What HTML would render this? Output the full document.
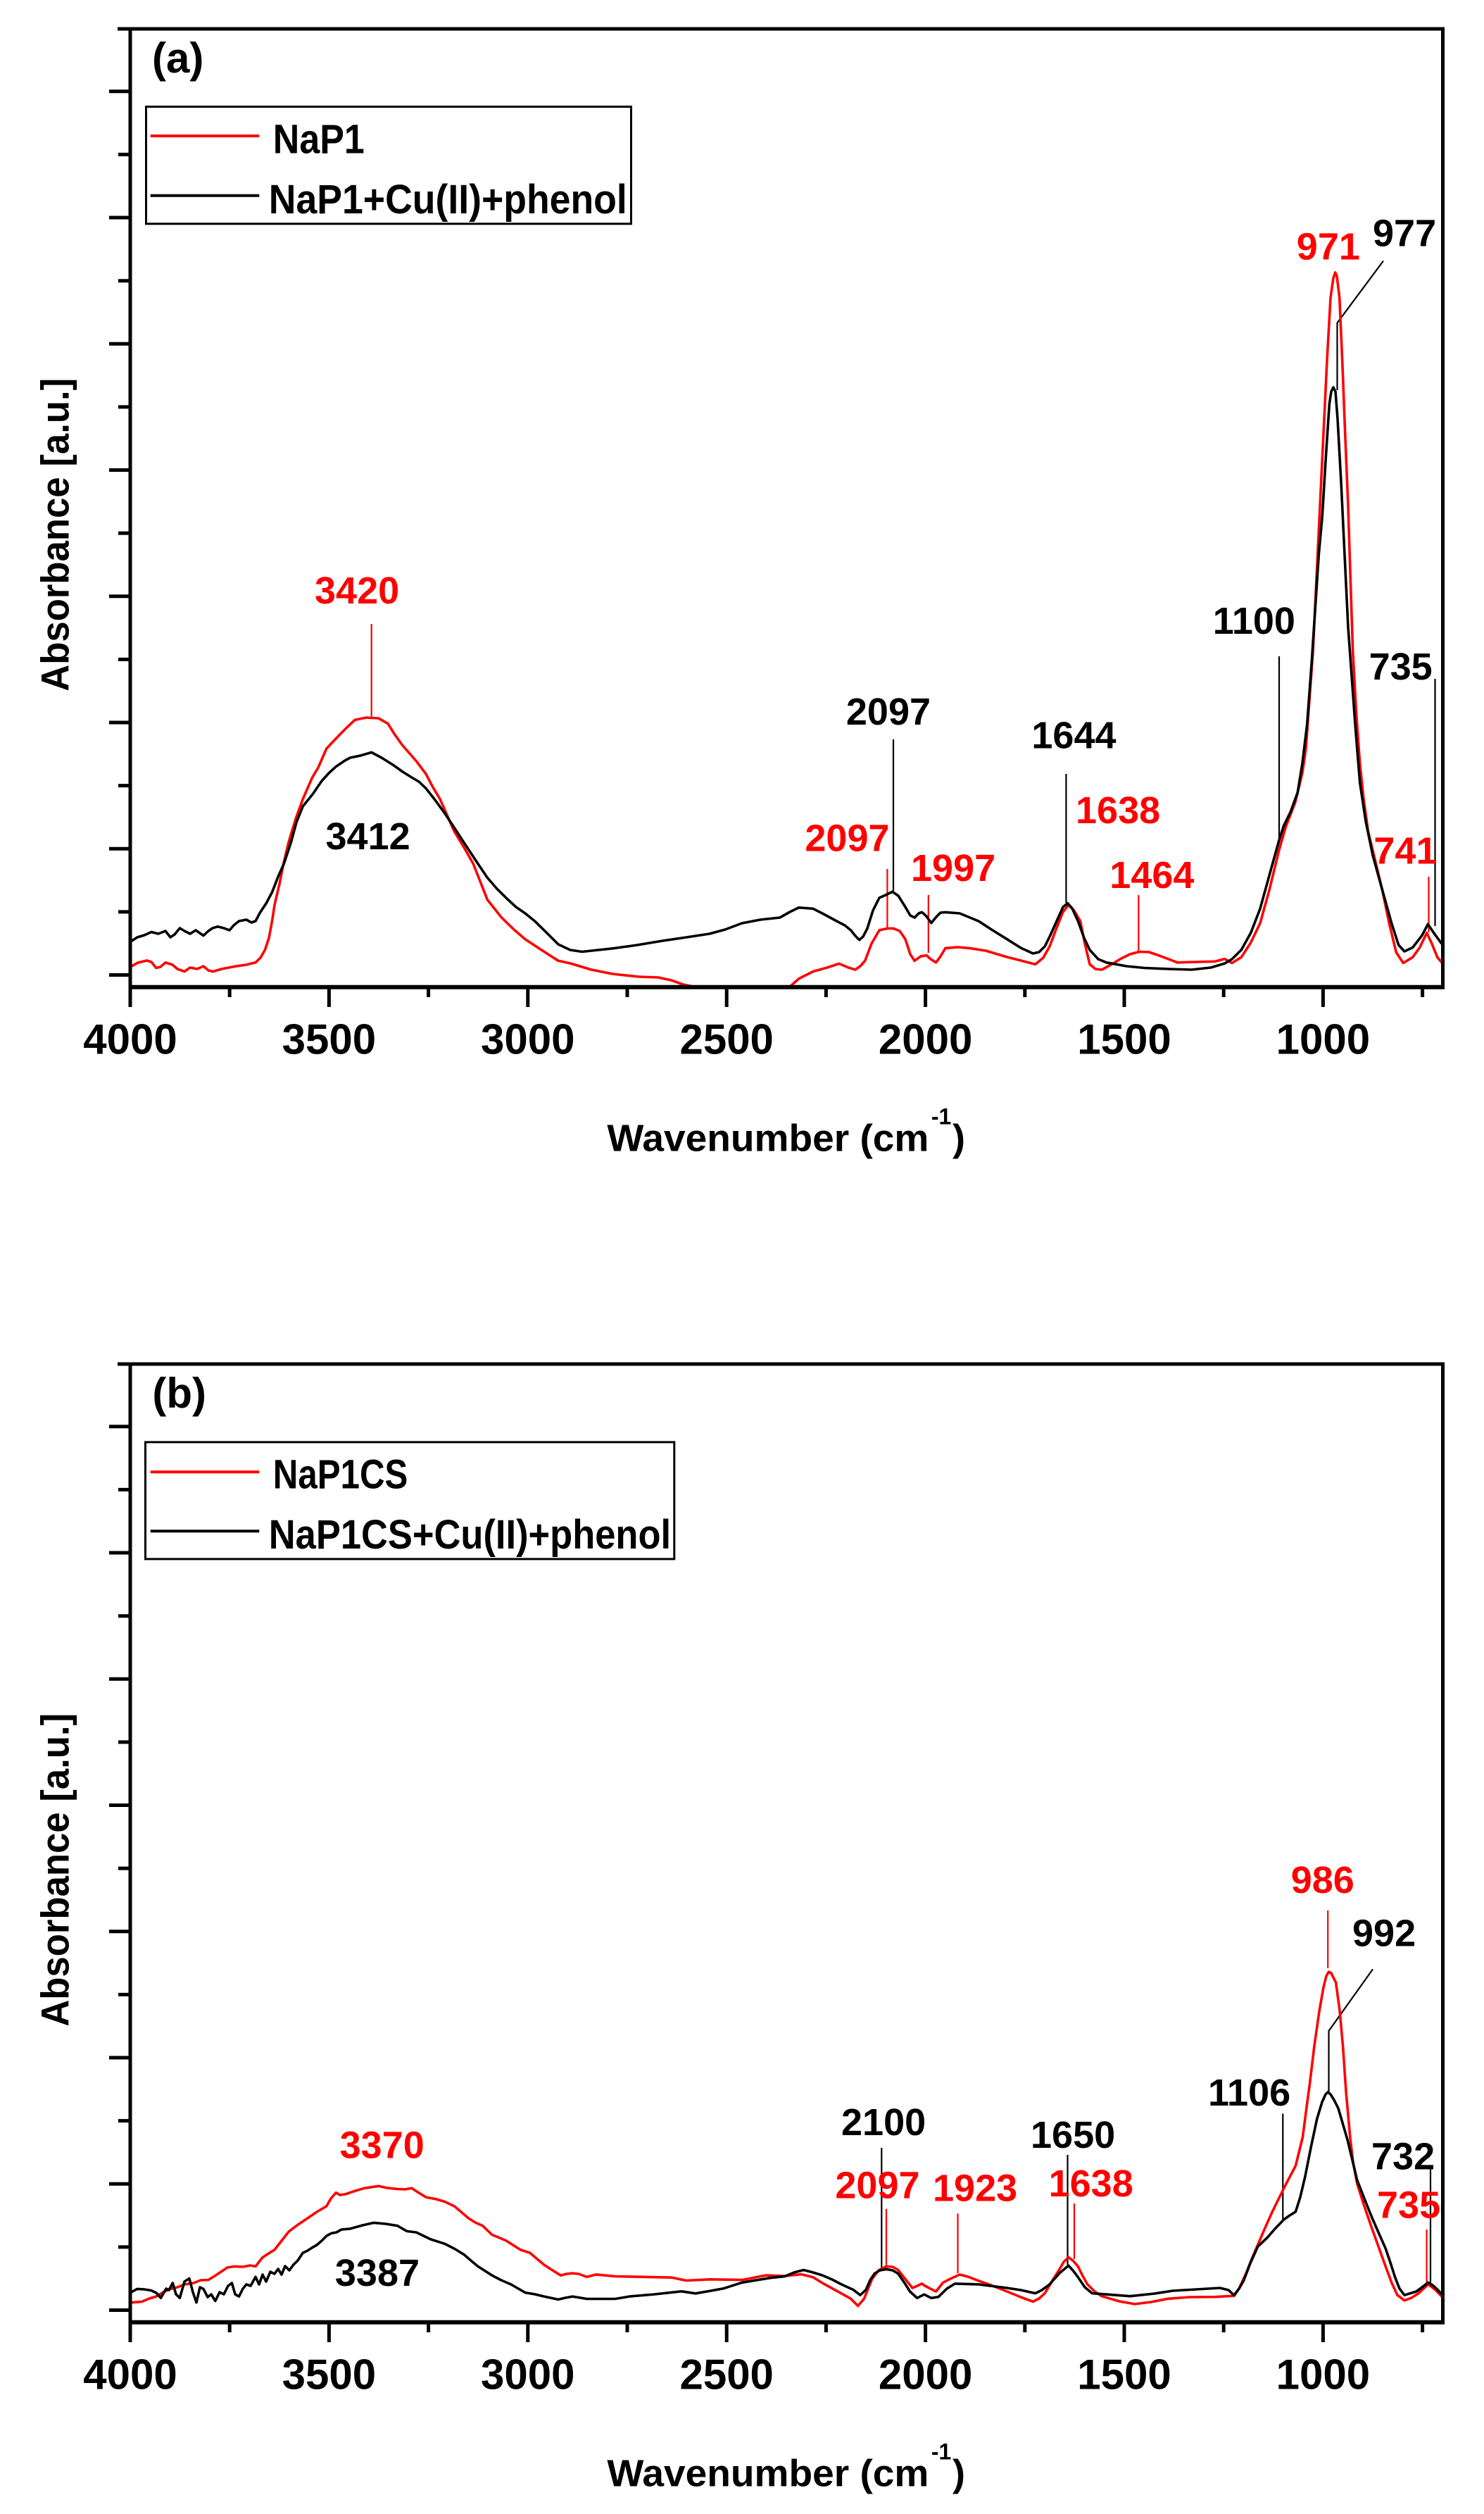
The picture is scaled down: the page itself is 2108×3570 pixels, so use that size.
<!DOCTYPE html>
<html>
<head>
<meta charset="utf-8">
<style>
html,body{margin:0;padding:0;background:#fff;}
svg{display:block;}
text{font-family:"Liberation Sans",Arial,sans-serif;font-weight:bold;}
</style>
</head>
<body>
<svg width="2108" height="3570" viewBox="0 0 2108 3570" xmlns="http://www.w3.org/2000/svg">
<rect x="0" y="0" width="2108" height="3570" fill="#fff"/>
<defs>
<clipPath id="ca"><rect x="185" y="41" width="1864" height="1360"/></clipPath>
<clipPath id="cb"><rect x="185" y="1937" width="1864" height="1360"/></clipPath>
</defs>

<!-- ================= PANEL A ================= -->
<g id="panelA">
<g fill="none" stroke-width="2.2">
<line x1="527.7" y1="886" x2="527.7" y2="1020" stroke="#ff0000"/>
<line x1="1260.4" y1="1234" x2="1260.4" y2="1318" stroke="#ff0000"/>
<line x1="1318.8" y1="1271" x2="1318.8" y2="1353" stroke="#ff0000"/>
<line x1="1617.3" y1="1271" x2="1617.3" y2="1351" stroke="#ff0000"/>
<line x1="2029.5" y1="1245" x2="2029.5" y2="1324" stroke="#ff0000"/>
<line x1="1269" y1="1050" x2="1269" y2="1265" stroke="#000"/>
<line x1="1514.4" y1="1099" x2="1514.4" y2="1282" stroke="#000"/>
<line x1="1817" y1="932" x2="1817" y2="1192" stroke="#000"/>
<line x1="2038.5" y1="964" x2="2038.5" y2="1315" stroke="#000"/>
<polyline points="1965,370.5 1899.5,458.5 1899.5,554" stroke="#000"/>
</g>

<g clip-path="url(#ca)" fill="none" stroke-width="3.6" stroke-linejoin="round" stroke-linecap="round">
<polyline stroke="#ff0000" points="186.9,1372 196,1367 208.4,1364 215,1366 221.8,1374.5 228,1373 235,1366.8 245,1370 252,1376 262,1379.6 270,1374 280,1376 289,1372 296,1378 302.5,1379.6 315,1376 325,1374 336,1372 350,1370 363,1366.8 370,1360 376.4,1349 382,1332 386.5,1308 390,1285 396.6,1257 403,1225 410,1196 420,1163 430.2,1134.7 443.6,1104 452,1090 463.8,1063 478,1048 490.7,1035 504,1022.4 520,1019 537.7,1020 551,1027.6 560,1042 571.4,1058 591.5,1081 605,1099 615,1118 625,1134.7 645.3,1180.6 660,1205 672.2,1226.5 692.3,1277.6 712.5,1303 730,1320 746,1333.7 760,1343 773,1351.5 793,1364.3 810,1368 840,1377 870,1383 907.4,1387 935,1388 954.5,1392.3 970,1398 988,1401.5 1121,1402 1134.7,1389.8 1154.8,1379.6 1175,1374 1191.8,1368.4 1205,1374 1215,1377 1222,1372 1228.8,1364.3 1238,1340 1249,1321 1260,1318.5 1269,1318.4 1278,1322 1286,1333.7 1293,1355 1299,1364.3 1308,1358 1316,1356.6 1322,1362 1329.6,1366.8 1336,1358 1343,1346.4 1360,1345 1376.6,1346.4 1400,1350 1430.4,1359 1450,1364 1470.7,1369.4 1482,1360 1491,1343.9 1500,1320 1510,1295 1517.8,1285.2 1525,1292 1534.6,1308 1541,1340 1548,1369.4 1556,1376 1565,1377 1578,1370 1591.7,1361.7 1605,1355 1618.6,1351.5 1632,1352 1645.5,1356.6 1660,1362 1672.4,1366.8 1700,1366 1726,1365.3 1739.6,1361.7 1750,1367.5 1763.3,1359.3 1776.7,1338.6 1790,1311 1803.3,1262.9 1816.7,1207.8 1826.7,1173.3 1840,1139 1850,1097.5 1855,1063 1860,994.3 1865,925.4 1870,822 1875,718.8 1880,615.5 1885,512.2 1890,422.6 1894,395 1896.7,386.8 1899,392 1902.7,422.6 1906.7,512.2 1910.7,615.5 1915,718.8 1918.3,822 1921.7,925.4 1926.7,1015 1931.7,1083.8 1936.7,1132 1943.3,1180 1953.3,1221.5 1963.3,1262.9 1973.3,1311 1983.3,1352.4 1993.3,1367.5 2006.7,1359.3 2016.7,1345.5 2026.7,1324.8 2033.3,1338.6 2041.7,1359.3 2049,1368"/>
<polyline stroke="#000" points="186.9,1336.2 195,1331 205,1328 215,1323.5 225,1326 235,1322 242,1331 248,1327 255.4,1318 262,1322 270,1326 278,1321 289,1328.6 296,1322 302,1318 309,1315.8 318,1318 326,1321 332,1314 339.5,1308 350,1306 357,1310 363,1308 369.7,1295.4 378,1283 386.5,1267 395,1245 403.3,1226.5 413.4,1196 421,1168 430.2,1145 444,1128 457,1109 467,1098 477,1088.8 490,1080 497.4,1076 512,1073 527.7,1068.4 542,1076 558,1086 572,1096 584.8,1104 595,1110 605,1119.4 618,1136 631.8,1155 645,1175 658.7,1196 678.9,1226.5 692,1246 705.8,1262 720,1276 732.7,1287.8 746,1297 759.6,1308 776,1324 793,1341 810,1349 826.8,1351.5 850,1349 873.8,1346.4 905,1342 941,1336 975,1331 1008,1326 1030,1320 1054,1311 1080,1306 1107.8,1303 1122,1295 1134.7,1288.8 1154.8,1290.3 1170,1298 1188.4,1308 1200,1314 1208.6,1321 1215,1329 1220.7,1334.7 1226,1330 1232,1318.4 1240,1293 1249,1275 1258,1271 1267.7,1266.3 1276,1272 1285.9,1287.8 1293,1300 1299.3,1303 1305,1297 1309.4,1295.4 1315,1300 1322.9,1310.7 1330,1302 1336,1296 1343,1295.4 1363.2,1297 1390,1308 1410,1321 1430.4,1333.7 1450,1346 1467.4,1354 1476,1352 1484.2,1343.9 1492,1328 1501,1308 1510,1288 1516.5,1282.6 1523,1290 1531.3,1308 1540,1332 1548,1349 1560,1362 1571.6,1366.8 1600,1372 1625.4,1374.5 1660,1376 1692.6,1377 1720,1374 1740,1368 1750,1362 1763.3,1348.9 1776.7,1324.8 1790,1290.4 1803.3,1242.2 1816.7,1194 1823.3,1173.3 1833.3,1152.7 1843.3,1125.1 1850,1083.8 1856.7,1028.7 1863.3,939.2 1868.3,863.4 1873.3,787.7 1878.3,732.6 1883.3,649.9 1888.3,574.2 1891,556 1894,550 1897,556 1900,594.8 1905,684.4 1910,787.7 1915,891 1920,959.8 1925,1028.7 1931.7,1111.3 1940,1166.4 1950,1214.6 1963.3,1262.9 1976.7,1311 1986.7,1342 1995,1351 2006.7,1345.5 2020,1328.3 2028.3,1312.4 2036.7,1324.8 2046.7,1338.6 2049,1341"/>
</g>

<rect x="185" y="41" width="1864.5" height="1360.7" fill="none" stroke="#000" stroke-width="5"/>
<line x1="182.5" y1="1401.7" x2="2052" y2="1401.7" stroke="#000" stroke-width="6"/>
<g stroke="#000" stroke-width="5">
<line x1="167" y1="41" x2="185" y2="41"/>
<line x1="155" y1="129.8" x2="185" y2="129.8"/>
<line x1="168" y1="219.4" x2="185" y2="219.4"/>
<line x1="155" y1="309" x2="185" y2="309"/>
<line x1="168" y1="398.7" x2="185" y2="398.7"/>
<line x1="155" y1="488.3" x2="185" y2="488.3"/>
<line x1="168" y1="577.9" x2="185" y2="577.9"/>
<line x1="155" y1="667.5" x2="185" y2="667.5"/>
<line x1="168" y1="757.1" x2="185" y2="757.1"/>
<line x1="155" y1="846.8" x2="185" y2="846.8"/>
<line x1="168" y1="936.4" x2="185" y2="936.4"/>
<line x1="155" y1="1026" x2="185" y2="1026"/>
<line x1="168" y1="1115.6" x2="185" y2="1115.6"/>
<line x1="155" y1="1205.2" x2="185" y2="1205.2"/>
<line x1="168" y1="1294.9" x2="185" y2="1294.9"/>
<line x1="155" y1="1384.5" x2="185" y2="1384.5"/>
</g>
<g stroke="#000" stroke-width="5">
<line x1="185" y1="1401" x2="185" y2="1430"/>
<line x1="467.4" y1="1401" x2="467.4" y2="1430"/>
<line x1="749.8" y1="1401" x2="749.8" y2="1430"/>
<line x1="1032.2" y1="1401" x2="1032.2" y2="1430"/>
<line x1="1314.6" y1="1401" x2="1314.6" y2="1430"/>
<line x1="1597" y1="1401" x2="1597" y2="1430"/>
<line x1="1879.4" y1="1401" x2="1879.4" y2="1430"/>
<line x1="326.2" y1="1401" x2="326.2" y2="1416"/>
<line x1="608.6" y1="1401" x2="608.6" y2="1416"/>
<line x1="891" y1="1401" x2="891" y2="1416"/>
<line x1="1173.4" y1="1401" x2="1173.4" y2="1416"/>
<line x1="1455.8" y1="1401" x2="1455.8" y2="1416"/>
<line x1="1738.2" y1="1401" x2="1738.2" y2="1416"/>
<line x1="2020.6" y1="1401" x2="2020.6" y2="1416"/>
</g>
<g font-size="60" text-anchor="middle" fill="#000">
<text x="185" y="1496.6">4000</text>
<text x="467.4" y="1496.6">3500</text>
<text x="749.8" y="1496.6">3000</text>
<text x="1032.2" y="1496.6">2500</text>
<text x="1314.6" y="1496.6">2000</text>
<text x="1597" y="1496.6">1500</text>
<text x="1879.4" y="1496.6">1000</text>
</g>
<text x="862.4" y="1634.7" font-size="54" textLength="457" lengthAdjust="spacingAndGlyphs">Wavenumber (cm</text>
<text x="1322.9" y="1596.4" font-size="32">-1</text>
<text x="1353" y="1634.7" font-size="54">)</text>
<text transform="translate(97.5,759.3) rotate(-90)" x="0" y="0" font-size="56" text-anchor="middle" textLength="445" lengthAdjust="spacingAndGlyphs">Absorbance [a.u.]</text>
<text x="216" y="103" font-size="60">(a)</text>
<rect x="207.5" y="151.5" width="689" height="166.3" fill="none" stroke="#000" stroke-width="3"/>
<line x1="213.7" y1="193" x2="368.3" y2="193" stroke="#ff0000" stroke-width="4"/>
<line x1="213.7" y1="277.8" x2="368.3" y2="277.8" stroke="#000" stroke-width="4"/>
<text x="387.8" y="217.5" font-size="58" textLength="130" lengthAdjust="spacingAndGlyphs">NaP1</text>
<text x="381.8" y="303" font-size="58" textLength="509" lengthAdjust="spacingAndGlyphs">NaP1+Cu(II)+phenol</text>
<g font-size="54">
<text x="447" y="857" fill="#ff0000">3420</text>
<text x="462.5" y="1206" fill="#000">3412</text>
<text x="1201.9" y="1029" fill="#000">2097</text>
<text x="1465.4" y="1062.5" fill="#000">1644</text>
<text x="1143.4" y="1208.7" fill="#ff0000">2097</text>
<text x="1294" y="1251" fill="#ff0000">1997</text>
<text x="1528" y="1168.9" fill="#ff0000">1638</text>
<text x="1576.3" y="1261.2" fill="#ff0000">1464</text>
<text x="1951.4" y="1226.5" fill="#ff0000">741</text>
<text x="1722.8" y="900" fill="#000">1100</text>
<text x="1944.6" y="965" fill="#000">735</text>
<text x="1841.8" y="368.3" fill="#ff0000">971</text>
<text x="1950" y="349.4" fill="#000">977</text>
</g>
</g>

<!-- ================= PANEL B ================= -->
<g id="panelB">
<g fill="none" stroke-width="2.2">
<line x1="1886.2" y1="2713" x2="1886.2" y2="2795" stroke="#ff0000"/>
<line x1="1259" y1="3136.7" x2="1259" y2="3219" stroke="#ff0000"/>
<line x1="1360.5" y1="3143.4" x2="1360.5" y2="3228" stroke="#ff0000"/>
<line x1="1526" y1="3129" x2="1526" y2="3208" stroke="#ff0000"/>
<line x1="2026.6" y1="3166" x2="2026.6" y2="3244" stroke="#ff0000"/>
<polyline points="1950,2796.4 1887.5,2884 1887.5,2971" stroke="#000"/>
<line x1="1822.3" y1="3001.5" x2="1822.3" y2="3154.6" stroke="#000"/>
<line x1="2032" y1="3080.6" x2="2032" y2="3241" stroke="#000"/>
<line x1="1252.3" y1="3050" x2="1252.3" y2="3221" stroke="#000"/>
<line x1="1516.5" y1="3060" x2="1516.5" y2="3216" stroke="#000"/>
</g>

<g clip-path="url(#cb)" fill="none" stroke-width="3.6" stroke-linejoin="round" stroke-linecap="round">
<polyline stroke="#ff0000" points="186.9,3269.7 201.7,3268.4 212,3264 221.8,3261.1 232,3255 242,3250.4 252,3248 262.1,3244 275,3242 285,3238 295.8,3237.6 305,3232 315.9,3224.8 323,3220 332.7,3218.4 345,3219 355,3217 363,3218.4 368,3212 373,3205.6 380,3201 389.9,3194.9 400,3182 410,3169.2 422,3160 436.9,3150 450,3141 463.8,3132.9 470,3122 477.2,3113.7 483,3117 490.7,3115.8 505,3111 517.6,3107.3 537.7,3104.3 550,3107 564.6,3108.5 575,3109 584.8,3107.3 592,3112 605,3120.1 620,3123 631.8,3126.5 645.3,3132.9 655,3141 665.5,3150 675,3156 685.6,3160.7 699,3173.5 710,3178 719.2,3182 739.4,3194.9 752.8,3199.1 762,3207 773,3216.2 785,3224 796.5,3231.2 805,3229 813.3,3228.2 822,3229 833.5,3233.3 847,3229.9 873.8,3232.5 954.5,3234.2 974.7,3238.5 1008.3,3236.8 1054,3237.6 1087.6,3231.1 1114.5,3232.1 1138,3229.6 1154.8,3233.7 1170,3243 1188.4,3253 1208.6,3264.3 1218.7,3274.5 1227.4,3264.3 1238.8,3236.2 1248,3224 1259,3218.4 1268,3219 1275.8,3223.5 1285.9,3236.2 1296,3249 1303,3246 1309.4,3242.9 1314,3246 1319.5,3249 1329.6,3254 1339.7,3241.3 1350,3236 1363.2,3230 1375,3233 1390,3238.8 1410,3246 1430.4,3254 1450,3262 1467.4,3268.4 1476,3264 1484.2,3256.6 1494,3240 1504.4,3223.5 1511,3212 1517.8,3205.6 1524,3210 1531.3,3218.4 1538,3232 1544.7,3243.9 1555,3254 1565,3260.7 1590,3268 1612,3271.9 1635,3269 1659,3264.3 1690,3262 1726,3261.7 1753,3260.2 1760,3250 1769.9,3228.6 1778,3208 1786.7,3187.8 1796,3166 1806.8,3141.8 1817,3121 1827,3101 1840.4,3075.5 1850.5,3034.7 1855,3000 1860.6,2958.2 1867,2905 1874,2856.1 1880,2822 1884,2806 1887.5,2800 1891,2802 1897.6,2815.3 1903,2855 1907.7,2907.1 1912,2970 1917.8,3034.7 1922,3070 1927.8,3101 1937,3130 1948,3162.2 1958,3190 1968.2,3218.4 1977,3242 1985,3259.2 1995,3266.8 2005,3263 2015.2,3256.6 2022,3250 2028.7,3243.9 2038.7,3251.5 2049,3262"/>
<polyline stroke="#000" points="186.9,3254.7 195,3250.4 205,3251 215,3252.6 222,3256 228.5,3263.2 236,3250 240,3252 245.3,3241.9 250,3258 255.4,3263.2 262,3240 268.9,3235.5 274,3255 279,3269.7 284,3248 289,3250.4 295,3262 300,3258 305.8,3267.5 312,3255 318,3258 324,3246 329.4,3241.9 334,3258 339.5,3261.1 345,3250 350,3244 356,3246 363,3233.3 368,3244 373,3230 378,3240 384,3226 389.9,3229 395,3222 400,3230 405,3218 411,3224 416.7,3216.2 423,3210 430.2,3199.1 437,3196 443,3192 450,3188 457,3182 464,3175 470.5,3171.4 478,3170 485,3166 497.4,3164.9 515,3160 531,3156.4 548,3158 564.6,3160.7 578,3168.4 591.5,3170.1 611.7,3179.9 631.8,3186.3 645,3193 658.7,3201.3 670,3211 678.9,3218.4 699,3231.2 712,3238 726,3244 746,3255.6 760,3258 773,3261.1 793,3265.4 803,3263 813.3,3261.1 833.5,3264.5 873.8,3264.5 894,3261.1 930,3258 968,3253.8 988,3256.8 1010,3253 1028.4,3249.6 1054,3241.3 1094.3,3234.7 1114.5,3232.6 1128,3227 1141.4,3223.5 1155,3227 1168.3,3231.1 1182,3237 1195.2,3243.9 1212,3251.5 1222,3259.2 1230.1,3251.5 1236,3238 1242.2,3228.6 1250,3224 1259,3222.4 1268,3224 1275.8,3228.6 1285,3242 1292.6,3254 1302.7,3263.3 1312.8,3258.2 1322.9,3263.3 1333,3261.7 1345,3250 1356.5,3242.9 1390,3243.9 1430.4,3249 1450,3252 1470.7,3256.6 1480,3252 1490.9,3243.9 1505,3228 1517.8,3217.3 1524,3224 1531.3,3233.7 1541,3248 1551.4,3256.6 1605.2,3260.7 1640,3257 1665.7,3253 1732.9,3249 1745,3252 1753,3259.2 1760,3250 1766.5,3238.8 1776,3214 1786.7,3190.3 1800.1,3177.6 1812,3164 1823.6,3152 1832,3146 1840.4,3140.8 1847,3120 1853.9,3090.8 1862,3050 1870.7,3009.2 1878,2985 1883,2974 1886.2,2970.9 1890,2974 1895,2982 1901,2993.9 1914.4,3039.8 1927.8,3095.9 1938,3122 1948,3147 1958,3170 1968.2,3192.9 1976,3216 1981.6,3233.7 1988,3250 1995,3259.2 2011.9,3254 2020,3248 2028.7,3241.3 2035,3245 2042,3251.5 2049,3259"/>
</g>

<rect x="185" y="1937" width="1864.5" height="1360.7" fill="none" stroke="#000" stroke-width="5"/>
<line x1="182.5" y1="3297.7" x2="2052" y2="3297.7" stroke="#000" stroke-width="6"/>
<g stroke="#000" stroke-width="5">
<line x1="167" y1="1937" x2="185" y2="1937"/>
<line x1="155" y1="2025.8" x2="185" y2="2025.8"/>
<line x1="168" y1="2115.4" x2="185" y2="2115.4"/>
<line x1="155" y1="2205" x2="185" y2="2205"/>
<line x1="168" y1="2294.7" x2="185" y2="2294.7"/>
<line x1="155" y1="2384.3" x2="185" y2="2384.3"/>
<line x1="168" y1="2473.9" x2="185" y2="2473.9"/>
<line x1="155" y1="2563.5" x2="185" y2="2563.5"/>
<line x1="168" y1="2653.1" x2="185" y2="2653.1"/>
<line x1="155" y1="2742.8" x2="185" y2="2742.8"/>
<line x1="168" y1="2832.4" x2="185" y2="2832.4"/>
<line x1="155" y1="2922" x2="185" y2="2922"/>
<line x1="168" y1="3011.6" x2="185" y2="3011.6"/>
<line x1="155" y1="3101.2" x2="185" y2="3101.2"/>
<line x1="168" y1="3190.9" x2="185" y2="3190.9"/>
<line x1="155" y1="3280.5" x2="185" y2="3280.5"/>
</g>
<g stroke="#000" stroke-width="5">
<line x1="185" y1="3297" x2="185" y2="3326"/>
<line x1="467.4" y1="3297" x2="467.4" y2="3326"/>
<line x1="749.8" y1="3297" x2="749.8" y2="3326"/>
<line x1="1032.2" y1="3297" x2="1032.2" y2="3326"/>
<line x1="1314.6" y1="3297" x2="1314.6" y2="3326"/>
<line x1="1597" y1="3297" x2="1597" y2="3326"/>
<line x1="1879.4" y1="3297" x2="1879.4" y2="3326"/>
<line x1="326.2" y1="3297" x2="326.2" y2="3312"/>
<line x1="608.6" y1="3297" x2="608.6" y2="3312"/>
<line x1="891" y1="3297" x2="891" y2="3312"/>
<line x1="1173.4" y1="3297" x2="1173.4" y2="3312"/>
<line x1="1455.8" y1="3297" x2="1455.8" y2="3312"/>
<line x1="1738.2" y1="3297" x2="1738.2" y2="3312"/>
<line x1="2020.6" y1="3297" x2="2020.6" y2="3312"/>
</g>
<g font-size="60" text-anchor="middle" fill="#000">
<text x="185" y="3392.6">4000</text>
<text x="467.4" y="3392.6">3500</text>
<text x="749.8" y="3392.6">3000</text>
<text x="1032.2" y="3392.6">2500</text>
<text x="1314.6" y="3392.6">2000</text>
<text x="1597" y="3392.6">1500</text>
<text x="1879.4" y="3392.6">1000</text>
</g>
<text x="862.4" y="3530.7" font-size="54" textLength="457" lengthAdjust="spacingAndGlyphs">Wavenumber (cm</text>
<text x="1322.9" y="3492.4" font-size="32">-1</text>
<text x="1353" y="3530.7" font-size="54">)</text>
<text transform="translate(97.5,2655.3) rotate(-90)" x="0" y="0" font-size="56" text-anchor="middle" textLength="445" lengthAdjust="spacingAndGlyphs">Absorbance [a.u.]</text>
<text x="216.4" y="1999" font-size="60">(b)</text>
<rect x="206.5" y="2047.9" width="751.3" height="166" fill="none" stroke="#000" stroke-width="3"/>
<line x1="213.7" y1="2090.2" x2="368.3" y2="2090.2" stroke="#ff0000" stroke-width="4"/>
<line x1="213.7" y1="2174.3" x2="368.3" y2="2174.3" stroke="#000" stroke-width="4"/>
<text x="387.8" y="2113.6" font-size="58" textLength="191.6" lengthAdjust="spacingAndGlyphs">NaP1CS</text>
<text x="381.8" y="2199" font-size="58" textLength="571.3" lengthAdjust="spacingAndGlyphs">NaP1CS+Cu(II)+phenol</text>
<g font-size="54">
<text x="482.6" y="3064.5" fill="#ff0000">3370</text>
<text x="475.9" y="3246.2" fill="#000">3387</text>
<text x="1833.7" y="2687.8" fill="#ff0000">986</text>
<text x="1921" y="2763.3" fill="#000">992</text>
<text x="1716" y="2989.8" fill="#000">1106</text>
<text x="1948" y="3080.6" fill="#000">732</text>
<text x="1956" y="3149.5" fill="#ff0000">735</text>
<text x="1195" y="3032.1" fill="#000">2100</text>
<text x="1186.4" y="3121.4" fill="#ff0000">2097</text>
<text x="1325" y="3125.5" fill="#ff0000">1923</text>
<text x="1464" y="3050" fill="#000">1650</text>
<text x="1489.6" y="3118.9" fill="#ff0000">1638</text>
</g>
</g>
</svg>
</body>
</html>
